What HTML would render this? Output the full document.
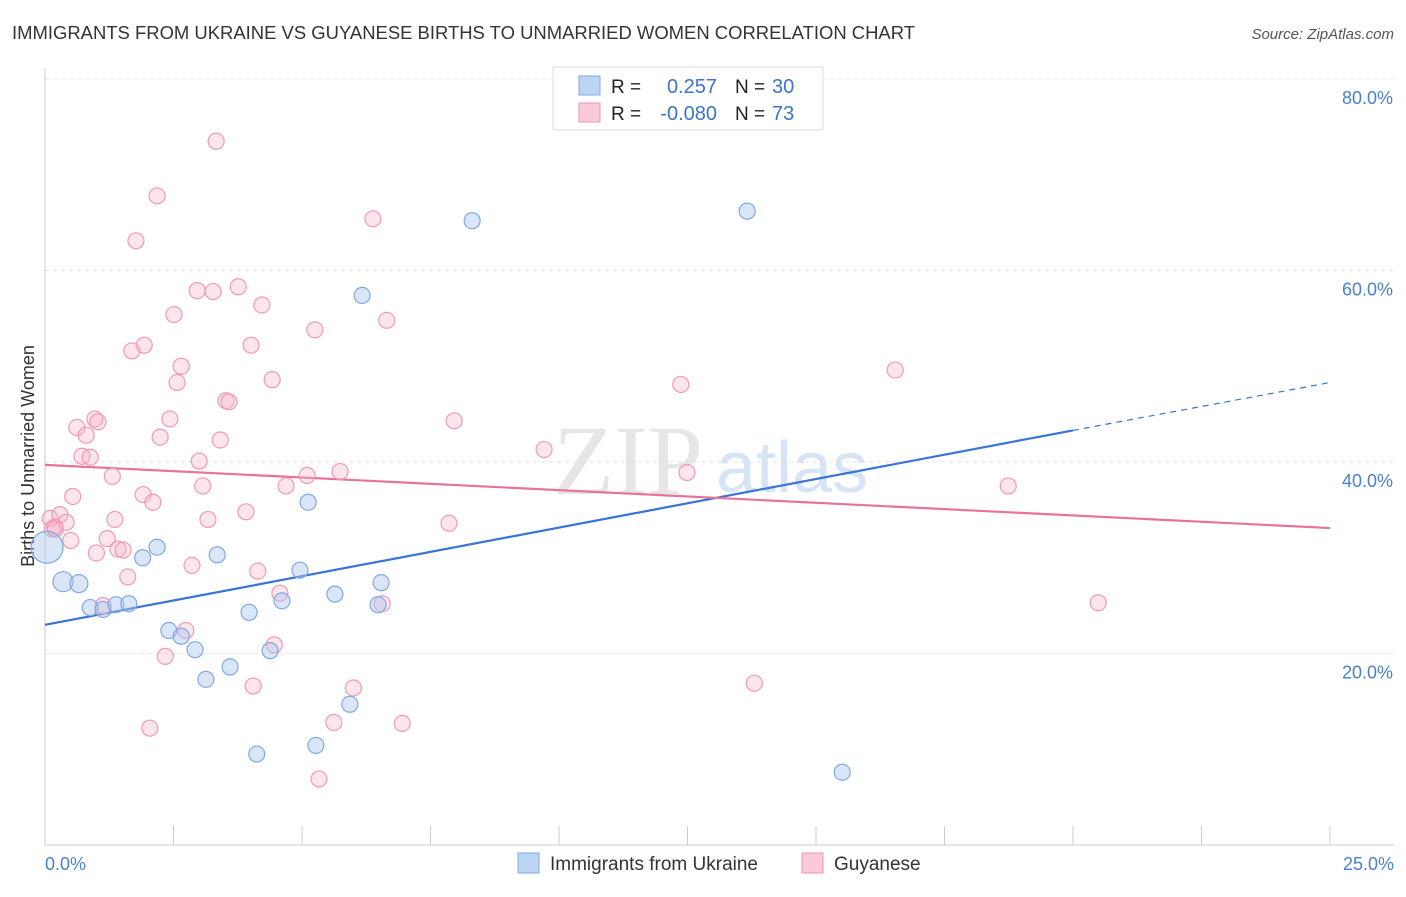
<!DOCTYPE html>
<html><head><meta charset="utf-8"><style>
body{margin:0;background:#fff;font-family:"Liberation Sans",sans-serif;}
svg text{font-family:"Liberation Sans",sans-serif;}
</style></head><body>
<svg width="1406" height="892" xmlns="http://www.w3.org/2000/svg">
<text x="12" y="39" font-size="18" fill="#333" textLength="903" lengthAdjust="spacingAndGlyphs">IMMIGRANTS FROM UKRAINE VS GUYANESE BIRTHS TO UNMARRIED WOMEN CORRELATION CHART</text>
<text x="1394" y="39" font-size="15" fill="#555" font-style="italic" text-anchor="end">Source: ZipAtlas.com</text>
<text x="553" y="494" font-size="100" fill="#e6e6e6" style="font-family:'Liberation Serif',serif">ZIP</text>
<text x="716" y="492" font-size="72" fill="#d6e4f5">atlas</text>
<g id="grid"></g>
<g id="axes"></g>
<text transform="translate(34,456) rotate(-90)" font-size="18" fill="#333" text-anchor="middle">Births to Unmarried Women</text>
<text x="45" y="870" font-size="18" fill="#4a80d0">0.0%</text>
<text x="1394" y="870" font-size="18" fill="#4a80d0" text-anchor="end">25.0%</text>
<g id="lines"></g>
<g id="pts"></g>
<g>
<rect x="553" y="67" width="270" height="63" fill="#fff" stroke="#ddd"/>
<rect x="579" y="76" width="21" height="19" fill="#bcd5f5" stroke="#7fa9e0"/>
<rect x="579" y="103" width="21" height="19" fill="#fbcad8" stroke="#ef94b0"/>
<text x="611" y="93" font-size="19" fill="#222">R = </text><text x="717" y="93" font-size="20" fill="#3a74cc" text-anchor="end">0.257</text>
<text x="735" y="93" font-size="19" fill="#222">N = </text><text x="772" y="93" font-size="20" fill="#3a74cc">30</text>
<text x="611" y="120" font-size="19" fill="#222">R = </text><text x="717" y="120" font-size="20" fill="#3a74cc" text-anchor="end">-0.080</text>
<text x="735" y="120" font-size="19" fill="#222">N = </text><text x="772" y="120" font-size="20" fill="#3a74cc">73</text>
</g>
<g>
<rect x="518" y="853" width="21" height="20" fill="#bcd5f5" stroke="#7fa9e0"/>
<text x="550" y="870" font-size="19" fill="#333">Immigrants from Ukraine</text>
<rect x="802" y="853" width="21" height="20" fill="#fbcad8" stroke="#ef94b0"/>
<text x="834" y="870" font-size="19" fill="#333">Guyanese</text>
</g>
</svg>
<script>
const xTicks=[0,2.5,5,7.5,10,12.5,15,17.5,20,22.5,25];
const yTicks=[20,40,60,80];
const blueX=[0.04,0.35,0.66,0.88,1.13,1.38,1.63,1.9,2.18,2.41,2.65,2.92,3.13,3.35,3.6,3.97,4.12,4.38,4.61,4.96,5.12,5.27,5.64,5.93,6.17,6.48,6.54,8.31,13.66,15.51];
const blueY=[31.1,27.5,27.3,24.8,24.6,25.1,25.2,30.0,31.1,22.4,21.8,20.4,17.3,30.3,18.6,24.3,9.5,20.3,25.5,28.7,35.8,10.4,26.2,14.7,57.4,25.1,27.4,65.2,66.2,7.6];
const blueR=[16,10,9,8,8,8,8,8,8,8,8,8,8,8,8,8,8,8,8,8,8,8,8,8,8,8,8,8,8,8];
const pinkX=[3.33,2.18,1.77,6.38,2.96,3.27,3.76,4.22,2.51,5.25,6.65,1.93,1.69,4.01,2.65,2.57,4.42,12.37,16.54,3.52,3.58,0.97,1.03,0.62,2.43,0.80,2.24,3.41,7.96,9.71,0.72,0.88,3.0,1.31,3.07,5.10,5.74,4.69,12.49,18.74,0.54,1.91,2.10,0.10,0.29,3.91,3.17,1.36,7.86,0.41,0.19,0.14,1.21,1.42,1.52,2.86,1.61,4.14,4.57,1.13,6.56,20.49,2.74,4.46,2.34,4.05,6.0,13.8,5.62,6.95,2.04,5.33,0.2,0.5,1.0];
const pinkY=[73.5,67.8,63.1,65.4,57.9,57.8,58.3,56.4,55.4,53.8,54.8,52.2,51.6,52.2,50.0,48.3,48.6,48.1,49.6,46.4,46.3,44.5,44.2,43.6,44.5,42.8,42.6,42.3,44.3,41.3,40.6,40.5,40.1,38.5,37.5,38.6,39.0,37.5,38.9,37.5,36.4,36.6,35.8,34.1,34.5,34.8,34.0,34.0,33.6,33.7,33.2,33.0,32.0,30.9,30.8,29.2,28.0,28.6,26.3,25.0,25.2,25.3,22.4,20.9,19.7,16.6,16.4,16.9,12.8,12.7,12.2,6.9,33.0,31.8,30.5];
const X=v=>45+v/25*1285, Y=v=>845-v/20*191.5;
const NS="http://www.w3.org/2000/svg";
function mk(t,a,p){const e=document.createElementNS(NS,t);for(const k in a)e.setAttribute(k,a[k]);document.getElementById(p).appendChild(e);return e;}
yTicks.forEach(t=>{
 const l=mk('line',{x1:45,x2:1394,y1:Y(t),y2:Y(t),stroke:'#e2e2e2','stroke-dasharray':'4,4'},'grid');
 
 
 const tx=mk('text',{x:1393,y:Y(t)+25,'font-size':18,fill:'#4a80d0','text-anchor':'end'},'grid');tx.textContent=t.toFixed(1)+'%';
 
 
});
const ya=mk('line',{x1:45,x2:45,y1:68,y2:845,stroke:'#ccc'},'axes');


const xa=mk('line',{x1:45,x2:1394,y1:845,y2:845,stroke:'#ccc'},'axes');


xTicks.forEach(t=>{const l=mk('line',{x1:X(t),x2:X(t),y1:826,y2:845,stroke:'#ccc'},'axes');
 
 });
for(let i=0;i<pinkX.length;i++){const c=mk('circle',{cx:X(pinkX[i]),cy:Y(pinkY[i]),r:8,fill:'rgba(248,180,200,0.35)',stroke:'#ef9ab5','stroke-width':1.2},'pts');
 
 }
for(let i=0;i<blueX.length;i++){const c=mk('circle',{cx:X(blueX[i]),cy:Y(blueY[i]),r:blueR[i],fill:'rgba(170,200,240,0.45)',stroke:'#7fa9e0','stroke-width':1.2},'pts');
 
 }
const b1=mk('line',{x1:X(0),y1:Y(23.0),x2:X(20),y2:Y(43.3),stroke:'#3a74d4','stroke-width':2.2},'lines');


const b2=mk('line',{x1:X(20),y1:Y(43.3),x2:X(25),y2:Y(48.3),stroke:'#3a74d4','stroke-width':1.2,'stroke-dasharray':'6,5'},'lines');


const p1=mk('line',{x1:X(0),y1:Y(39.7),x2:X(25),y2:Y(33.1),stroke:'#e8729a','stroke-width':2.2},'lines');


</script>
</body></html>
